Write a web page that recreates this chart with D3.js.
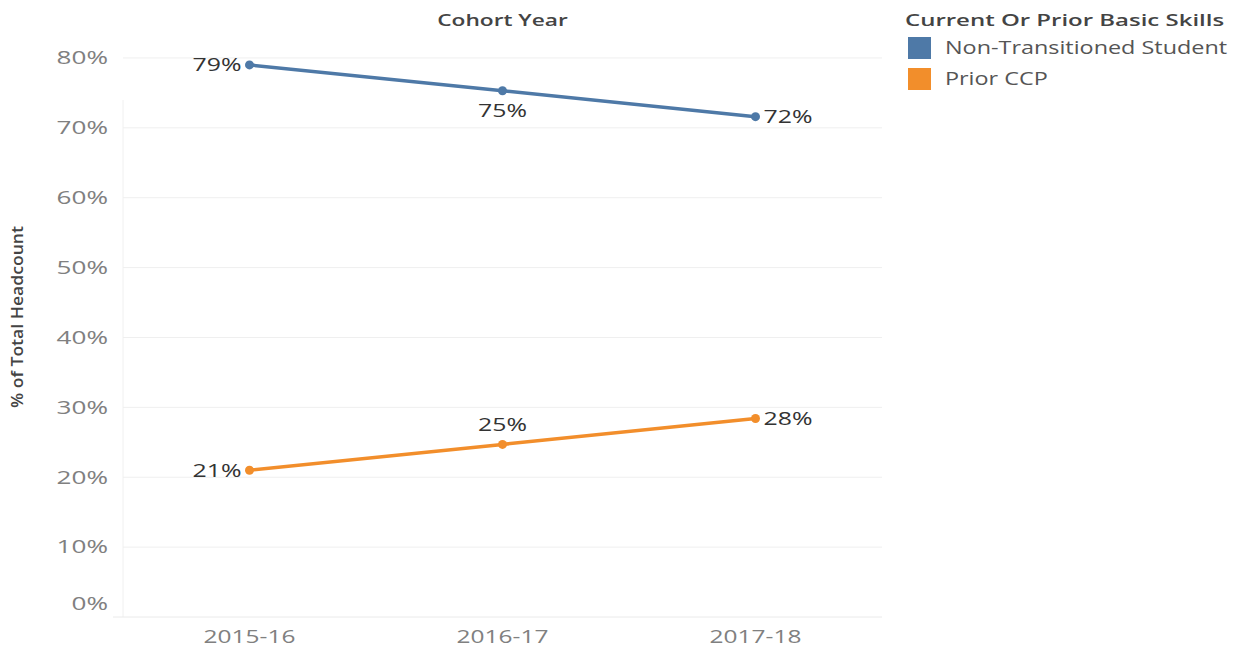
<!DOCTYPE html>
<html>
<head>
<meta charset="utf-8">
<script src="https://cdn.jsdelivr.net/npm/d3@7"></script>
<style>
  body { margin: 0; background: #fff; }
  text { font-family: "Open Sans", "Noto Sans", sans-serif; }
</style>
</head>
<body>
<div id="chart"></div>
<script>
var years = ["2015-16", "2016-17", "2017-18"];
var nonTransitioned = [79.0, 75.3, 71.6];
var priorCCP = [21.0, 24.7, 28.4];
var yTicks = [0, 10, 20, 30, 40, 50, 60, 70, 80];
var seriesNames = ["Non-Transitioned Student", "Prior CCP"];
var seriesColors = ["#4e79a7", "#f28e2b"];
// label placement per point: l = left, r = right, a = above, b = below
var labelPos = [["l", "b", "r"], ["l", "a", "r"]];

var width = 1239, height = 648;
var margin = {top: 30, left: 123, right: 357, bottom: 31};

var svg = d3.select("#chart").append("svg")
    .attr("width", width)
    .attr("height", height);

// the reference font is much wider than Open Sans, so text gets stretched sideways
function place(x, y, sx) {
  return "translate(" + x + "," + y + ") scale(" + sx + ",1)";
}

var x = d3.scaleBand()
    .domain(years)
    .range([margin.left, width - margin.right]);

var y = d3.scaleLinear()
    .domain([0, 84])
    .range([height - margin.bottom, margin.top]);

// gridlines
svg.append("g").selectAll("line")
    .data(yTicks.slice(1))
  .enter().append("line")
    .attr("x1", margin.left)
    .attr("x2", width - margin.right)
    .attr("y1", function(d) { return y(d); })
    .attr("y2", function(d) { return y(d); })
    .attr("stroke", "#efefef")
    .attr("stroke-width", 1);

// axis lines
svg.append("line")
    .attr("x1", margin.left).attr("x2", margin.left)
    .attr("y1", margin.top + 70).attr("y2", y(0))
    .attr("stroke", "#f0f0f0");
svg.append("line")
    .attr("x1", margin.left - 10).attr("x2", width - margin.right)
    .attr("y1", y(0)).attr("y2", y(0))
    .attr("stroke", "#eaeaea");

// y tick labels
svg.append("g").selectAll("text")
    .data(yTicks)
  .enter().append("text")
    .attr("transform", function(d) { return place(108, d === 0 ? y(d) - 13 : y(d), 1.45); })
    .attr("dy", "0.35em")
    .attr("text-anchor", "end")
    .attr("fill", "#808080")
    .style("font-size", "18px")
    .text(function(d) { return d + "%"; });

// x tick labels
svg.append("g").selectAll("text")
    .data(years)
  .enter().append("text")
    .attr("transform", function(d) { return place(x(d) + x.bandwidth() / 2, 637, 1.36); })
    .attr("dy", "0.35em")
    .attr("text-anchor", "middle")
    .attr("fill", "#808080")
    .style("font-size", "18px")
    .text(function(d) { return d; });

// titles
svg.append("text")
    .attr("transform", place((margin.left + width - margin.right) / 2, 20, 1.42))
    .attr("dy", "0.35em")
    .attr("text-anchor", "middle")
    .attr("fill", "#444")
    .style("font-size", "16px")
    .style("font-weight", "600")
    .text("Cohort Year");

svg.append("text")
    .attr("transform", "translate(17,317) rotate(-90) scale(1.1,1)")
    .attr("dy", "0.35em")
    .attr("text-anchor", "middle")
    .attr("fill", "#444")
    .style("font-size", "16px")
    .style("font-weight", "600")
    .text("% of Total Headcount");

// lines
var series = [nonTransitioned, priorCCP];
var line = d3.line()
    .x(function(d, i) { return x(years[i]) + x.bandwidth() / 2; })
    .y(function(d) { return y(d); });

series.forEach(function(s, si) {
  var g = svg.append("g");
  g.append("path")
      .datum(s)
      .attr("d", line)
      .attr("fill", "none")
      .attr("stroke", seriesColors[si])
      .attr("stroke-width", 3.5);
  g.selectAll("circle")
      .data(s)
    .enter().append("circle")
      .attr("cx", function(d, i) { return x(years[i]) + x.bandwidth() / 2; })
      .attr("cy", function(d) { return y(d); })
      .attr("r", 4.5)
      .attr("fill", seriesColors[si]);
  g.selectAll("text")
      .data(s)
    .enter().append("text")
      .attr("transform", function(d, i) {
        var cx = x(years[i]) + x.bandwidth() / 2, cy = y(d), p = labelPos[si][i];
        var lx = p === "l" ? cx - 8 : p === "r" ? cx + 8 : cx;
        var ly = p === "a" ? cy - 20 : p === "b" ? cy + 20 : cy;
        return place(lx, ly, 1.38);
      })
      .attr("dy", "0.35em")
      .attr("text-anchor", function(d, i) {
        var p = labelPos[si][i];
        return p === "l" ? "end" : p === "r" ? "start" : "middle";
      })
      .attr("fill", "#333")
      .style("font-size", "18px")
      .text(function(d) { return Math.round(d) + "%"; });
});

// legend
var legend = svg.append("g").attr("transform", "translate(905,0)");
legend.append("text")
    .attr("transform", place(0, 20, 1.5))
    .attr("dy", "0.35em")
    .attr("fill", "#444")
    .style("font-size", "16px")
    .style("font-weight", "600")
    .text("Current Or Prior Basic Skills");
var items = legend.selectAll("g.item")
    .data(seriesNames)
  .enter().append("g")
    .attr("class", "item")
    .attr("transform", function(d, i) { return "translate(0," + (37 + i * 31) + ")"; });
items.append("rect")
    .attr("x", 3)
    .attr("width", 23)
    .attr("height", 22)
    .attr("fill", function(d, i) { return seriesColors[i]; });
items.append("text")
    .attr("transform", place(40, 11, 1.3))
    .attr("dy", "0.35em")
    .attr("fill", "#555")
    .style("font-size", "18px")
    .text(function(d) { return d; });
</script>
</body>
</html>
